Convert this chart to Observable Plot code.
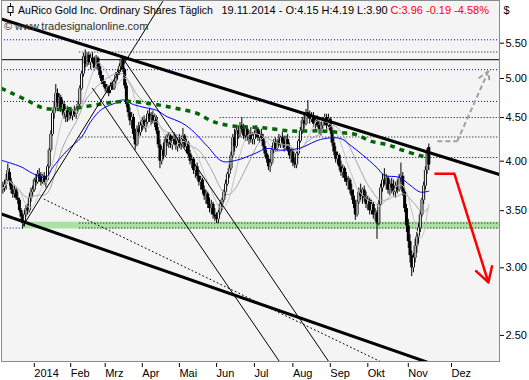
<!DOCTYPE html>
<html><head><meta charset="utf-8">
<script src="https://cdn.jsdelivr.net/npm/d3@7"></script>
<script src="https://cdn.jsdelivr.net/npm/@observablehq/plot@0.6"></script>
<style>
html,body{margin:0;padding:0;background:#fff;}
svg{display:block;}
</style></head><body><div id="chart"></div>
<script>
// ---------- data ----------
const titleMain = "AuRico Gold Inc. Ordinary Shares Täglich";
const titleQuote = "19.11.2014 - O:4.15 H:4.19 L:3.90";
const titleChange = "C:3.96 -0.19 -4.58%";
const currency = "$";
const credit = "© www.tradesignalonline.com";

const holidays = ["2013-12-25","2013-12-26","2014-01-01","2014-02-17","2014-04-18","2014-05-19","2014-07-01","2014-08-04","2014-09-01","2014-10-13","2014-12-25","2014-12-26","2015-01-01"];
const firstBar = "2013-12-03";
const monthStarts = ["2014-01-02","2014-02-03","2014-03-03","2014-04-01","2014-05-01","2014-06-02","2014-07-02","2014-08-01","2014-09-02","2014-10-01","2014-11-03","2014-12-01"];
const monthLabels = ["2014","Feb","Mrz","Apr","Mai","Jun","Jul","Aug","Sep","Okt","Nov","Dez"];
const priceTicks = [2.5,3,3.5,4,4.5,5,5.5];

const open = [
3.70,3.72,3.76,3.80,3.88,3.78,3.70,3.66,3.70,3.62,3.60,3.50,3.44,3.38,3.46,3.52,3.50,3.62,3.68,
3.70,3.80,3.78,3.86,3.82,3.78,3.84,3.78,3.80,3.94,4.12,4.30,4.55,4.62,4.80,4.68,4.75,4.60,4.66,4.52,4.58,4.50,
4.56,4.52,4.58,4.54,4.60,4.66,4.86,5.06,5.30,5.20,5.32,5.22,5.28,5.24,5.14,5.28,5.16,5.04,4.96,
4.92,4.86,4.88,4.84,4.90,4.86,4.96,5.04,5.08,5.16,5.26,5.12,4.90,4.66,4.56,4.46,4.50,4.30,4.18,4.36,
4.32,4.40,4.46,4.38,4.44,4.54,4.48,4.52,4.46,4.50,4.34,4.18,4.00,4.12,4.06,4.24,4.20,4.28,4.18,4.24,4.22,
4.16,4.22,4.18,4.24,4.28,4.16,4.20,4.08,4.00,4.02,3.90,3.94,3.84,3.78,3.80,3.70,3.64,3.66,3.56,3.52,3.56,
3.46,3.44,3.42,3.48,3.56,3.60,3.68,3.76,3.86,3.92,4.06,4.26,4.16,4.34,4.30,4.40,4.36,4.28,4.36,4.26,4.30,
4.24,4.24,4.30,4.36,4.26,4.30,4.26,4.16,4.08,4.02,3.94,3.98,4.12,4.20,4.14,4.22,4.18,4.26,4.22,4.14,4.24,
4.12,4.06,4.10,3.98,3.96,4.08,4.22,4.34,4.46,4.42,4.56,4.54,4.48,4.52,4.42,4.46,4.40,4.36,4.40,4.46,
4.50,4.40,4.48,4.34,4.20,4.10,4.02,4.06,3.94,3.88,3.92,3.82,3.78,3.80,3.70,3.64,3.56,3.46,3.58,3.68,3.64,
3.70,3.62,3.56,3.60,3.50,3.56,3.46,3.48,3.38,3.56,3.72,3.80,3.76,3.82,3.70,3.76,3.72,3.68,3.74,3.70,3.82,3.84,
3.68,3.52,3.36,3.22,3.10,3.00,3.08,3.18,3.26,3.34,3.46,3.60,3.74,3.90,4.15];
const high = [
3.78,3.80,3.86,3.97,3.92,3.82,3.76,3.74,3.72,3.68,3.62,3.52,3.47,3.50,3.55,3.56,3.66,3.72,3.74,
3.82,3.86,3.90,3.92,3.88,3.86,3.88,3.84,3.96,4.14,4.34,4.58,4.70,4.92,4.86,4.80,4.78,4.72,4.70,4.62,4.64,4.60,
4.62,4.60,4.64,4.62,4.70,4.90,5.10,5.35,5.40,5.36,5.36,5.34,5.36,5.30,5.32,5.30,5.20,5.10,5.04,
4.96,4.92,4.90,4.94,4.96,4.98,5.08,5.12,5.20,5.30,5.31,5.14,4.94,4.72,4.62,4.56,4.54,4.36,4.40,4.44,
4.46,4.50,4.52,4.48,4.58,4.60,4.56,4.58,4.54,4.52,4.38,4.24,4.16,4.20,4.28,4.30,4.32,4.30,4.28,4.32,4.30,
4.26,4.30,4.28,4.37,4.30,4.24,4.22,4.12,4.06,4.04,3.96,3.98,3.90,3.84,3.82,3.74,3.70,3.68,3.62,3.60,3.58,
3.52,3.48,3.50,3.58,3.62,3.70,3.80,3.88,3.96,4.10,4.30,4.36,4.38,4.40,4.44,4.50,4.42,4.40,4.40,4.34,4.38,
4.32,4.34,4.40,4.38,4.34,4.36,4.30,4.22,4.12,4.06,4.02,4.16,4.24,4.26,4.24,4.30,4.28,4.32,4.28,4.28,4.30,
4.20,4.14,4.12,4.04,4.10,4.24,4.38,4.50,4.56,4.60,4.71,4.58,4.56,4.56,4.50,4.52,4.48,4.44,4.50,4.54,
4.54,4.54,4.50,4.38,4.26,4.16,4.10,4.08,4.00,3.96,3.94,3.88,3.84,3.82,3.76,3.70,3.60,3.60,3.72,3.76,3.72,
3.74,3.68,3.64,3.62,3.60,3.58,3.52,3.50,3.60,3.76,3.86,3.92,3.86,3.84,3.80,3.82,3.80,3.78,3.80,3.86,3.98,3.88,
3.72,3.56,3.42,3.28,3.14,3.12,3.24,3.30,3.38,3.50,3.62,3.78,3.94,4.14,4.19];
const low = [
3.66,3.68,3.70,3.78,3.74,3.66,3.62,3.62,3.60,3.56,3.48,3.40,3.33,3.35,3.44,3.46,3.48,3.58,3.64,
3.68,3.74,3.76,3.78,3.74,3.76,3.75,3.72,3.80,3.92,4.10,4.28,4.48,4.58,4.62,4.60,4.56,4.52,4.48,4.44,4.44,4.46,
4.48,4.46,4.50,4.48,4.56,4.64,4.84,5.02,5.14,5.16,5.18,5.12,5.20,5.10,5.12,5.12,5.00,4.92,4.88,
4.82,4.80,4.76,4.80,4.84,4.84,4.92,4.98,5.04,5.12,5.08,4.86,4.62,4.50,4.40,4.36,4.24,4.12,4.16,4.28,
4.28,4.34,4.36,4.32,4.42,4.44,4.40,4.42,4.38,4.30,4.14,3.92,3.96,4.02,4.04,4.16,4.14,4.14,4.12,4.18,4.12,
4.10,4.14,4.12,4.20,4.14,4.08,4.04,3.96,3.92,3.86,3.82,3.80,3.74,3.70,3.66,3.60,3.56,3.52,3.48,3.46,3.42,
3.40,3.38,3.38,3.46,3.50,3.58,3.64,3.74,3.82,3.90,4.04,4.10,4.14,4.24,4.26,4.32,4.24,4.22,4.22,4.18,4.20,
4.18,4.18,4.26,4.22,4.20,4.22,4.12,4.04,3.98,3.90,3.88,3.96,4.08,4.10,4.10,4.16,4.14,4.18,4.10,4.12,4.10,
4.02,3.98,3.94,3.92,3.92,4.06,4.20,4.30,4.36,4.40,4.50,4.42,4.44,4.38,4.36,4.38,4.30,4.28,4.36,4.40,
4.36,4.38,4.30,4.16,4.06,3.98,3.96,3.90,3.84,3.82,3.78,3.74,3.70,3.66,3.60,3.52,3.41,3.44,3.56,3.60,3.56,
3.58,3.52,3.50,3.46,3.46,3.42,3.40,3.24,3.36,3.54,3.68,3.74,3.70,3.66,3.64,3.66,3.64,3.62,3.66,3.68,3.78,3.64,
3.48,3.30,3.16,3.04,2.93,2.96,3.04,3.12,3.20,3.30,3.44,3.56,3.70,3.86,3.90];
const close = [
3.72,3.75,3.80,3.90,3.78,3.70,3.66,3.70,3.62,3.60,3.50,3.44,3.38,3.46,3.52,3.50,3.62,3.68,3.70,
3.80,3.78,3.86,3.82,3.78,3.84,3.78,3.80,3.94,4.12,4.30,4.55,4.62,4.80,4.68,4.75,4.60,4.66,4.52,4.58,4.50,4.56,
4.52,4.58,4.54,4.60,4.66,4.86,5.06,5.30,5.20,5.32,5.22,5.28,5.24,5.14,5.28,5.16,5.04,4.96,4.92,
4.86,4.88,4.80,4.90,4.86,4.96,5.04,5.08,5.16,5.26,5.12,4.90,4.66,4.56,4.46,4.50,4.30,4.18,4.36,4.32,
4.40,4.46,4.38,4.44,4.54,4.48,4.52,4.46,4.50,4.34,4.18,4.00,4.12,4.06,4.24,4.20,4.28,4.18,4.24,4.22,4.16,
4.22,4.18,4.24,4.28,4.16,4.20,4.08,4.00,4.02,3.90,3.94,3.84,3.78,3.80,3.70,3.64,3.66,3.56,3.52,3.56,3.46,
3.44,3.42,3.48,3.56,3.60,3.68,3.76,3.86,3.92,4.06,4.26,4.16,4.34,4.30,4.40,4.36,4.28,4.36,4.26,4.30,4.24,
4.28,4.30,4.36,4.26,4.30,4.26,4.16,4.08,4.02,3.94,3.98,4.12,4.20,4.14,4.22,4.18,4.26,4.22,4.14,4.24,4.12,
4.06,4.10,3.98,3.96,4.08,4.22,4.34,4.46,4.42,4.56,4.54,4.48,4.52,4.42,4.46,4.40,4.36,4.40,4.46,4.50,
4.40,4.48,4.34,4.20,4.10,4.02,4.06,3.94,3.88,3.92,3.82,3.78,3.80,3.70,3.64,3.56,3.46,3.58,3.68,3.64,3.70,
3.62,3.56,3.60,3.50,3.56,3.46,3.48,3.38,3.56,3.72,3.80,3.76,3.82,3.70,3.76,3.72,3.68,3.74,3.70,3.82,3.84,3.68,
3.52,3.36,3.22,3.10,3.00,3.08,3.18,3.26,3.34,3.46,3.60,3.74,3.90,4.10,3.96];

// moving averages (blue and dotted green)
const maBlue = [["2013-12-02",4.01],["2013-12-18",3.94],["2013-12-31",3.87],["2014-01-13",3.83],["2014-01-17",3.93],["2014-01-30",4.12],["2014-02-11",4.27],["2014-02-19",4.45],["2014-02-27",4.60],["2014-03-12",4.69],["2014-03-17",4.72],["2014-03-25",4.66],["2014-04-03",4.62],["2014-04-11",4.59],["2014-04-22",4.51],["2014-05-02",4.44],["2014-05-12",4.35],["2014-05-26",4.16],["2014-06-05",4.00],["2014-06-17",4.01],["2014-07-03",4.09],["2014-07-11",4.14],["2014-07-23",4.12],["2014-08-07",4.14],["2014-08-13",4.17],["2014-08-21",4.23],["2014-09-02",4.26],["2014-09-10",4.25],["2014-09-17",4.18],["2014-09-26",4.07],["2014-10-08",3.93],["2014-10-15",3.85],["2014-10-27",3.83],["2014-11-04",3.75],["2014-11-12",3.68],["2014-11-19",3.69]];
const maGreen = [["2013-12-02",4.87],["2013-12-10",4.81],["2013-12-24",4.71],["2014-01-09",4.62],["2014-01-24",4.60],["2014-02-07",4.62],["2014-02-25",4.66],["2014-03-10",4.69],["2014-03-21",4.70],["2014-04-08",4.67],["2014-04-21",4.64],["2014-05-02",4.60],["2014-05-15",4.55],["2014-05-28",4.46],["2014-06-05",4.42],["2014-06-19",4.39],["2014-07-08",4.38],["2014-07-31",4.34],["2014-08-25",4.34],["2014-09-10",4.32],["2014-09-22",4.30],["2014-10-03",4.22],["2014-10-17",4.18],["2014-10-29",4.12],["2014-11-12",4.06],["2014-11-19",4.04]];

// drawn trend lines (date, price)
const channelUpper = [["2013-12-02",5.87],["2014-12-31",3.83]];
const channelLower = [["2013-12-02",3.47],["2014-11-21",2.31]];
const fanUp = [["2013-12-19",3.355],["2014-05-05",6.72]];
const fanDown1 = [["2014-02-20",4.87],["2014-07-30",2.24]];
const fanDown2 = [["2014-03-17",5.28],["2014-09-08",2.25]];
const dottedTrend = [["2014-01-10",3.61],["2014-10-22",2.29]];
const redLevel = [["2014-11-21",3.867],["2014-12-02",3.867]];
const redTarget = {from:["2014-12-02",3.867], to:["2014-12-18",2.884]};
const grayLevel = [["2014-11-24",4.22],["2014-12-03",4.22]];
const grayTarget = {from:["2014-12-03",4.22], to:["2014-12-18",5.10]};

// horizontal levels
const blueLevels = [5.55, 5.12, 4.70];
const solidLevels = [5.26];
const dottedLevels = [{p:5.37,from:"2014-02-10"},{p:4.27,from:"2014-02-10"},{p:4.04,from:"2014-02-10"},{p:4.50,from:"2014-06-04"},{p:3.385,from:"2014-02-10"},{p:3.34,from:"2014-02-10"}];
const blueShort = [{p:3.34,from:"2013-12-02",to:"2013-12-20"}];
const supportZone = {from:"2013-12-20", lo:3.332, hi:3.393};

// ---------- trading-day calendar ----------
const tdays = [];
for (let t = Date.UTC(2013,10,25); t <= Date.UTC(2015,1,27); t += 864e5) {
  const d = new Date(t), wd = d.getUTCDay();
  if (wd === 0 || wd === 6) continue;
  const s = d.toISOString().slice(0,10);
  if (holidays.includes(s)) continue;
  tdays.push(s);
}
const pos = new Map(tdays.map((s,i)=>[s,i]));
const ix = s => pos.get(s);
const lastIx = tdays.length - 1;

const start = ix(firstBar);
const candles = close.map((c,i)=>({x:start+i, o:open[i], h:high[i], l:low[i], c}));
const bodies = candles.flatMap(d => d.c > d.o
  ? [{x:d.x,y1:d.o,y2:d.c,col:"#000",w:3},{x:d.x,y1:d.o,y2:d.c,col:"#fff",w:1.1}]
  : [{x:d.x,y1:d.o,y2:d.c,col:"#000",w:3}]);

const xBreaks = [...monthStarts.slice(0,11), "2014-11-19", monthStarts[11]];
const xPixels = [33.8,70.2,104.7,141.8,178.9,216.1,253.9,292.4,329.8,367.3,407.8,428.3,451];
const labelOf = new Map(monthStarts.map((s,i)=>[ix(s), monthLabels[i]]));

const P = d => ix(d[0]);
const V = d => d[1];
const font = "'Liberation Sans', Arial, sans-serif";

const chart = Plot.plot({
  width: 529, height: 380,
  marginLeft: 1, marginRight: 30, marginTop: 0, marginBottom: 19,
  style: {fontFamily: font, fontSize: "11px", background: "#fff", color: "#000", overflow: "visible"},
  x: {type: "linear", domain: xBreaks.map(ix), range: xPixels},
  y: {type: "log", domain: [2.33, 6.171]},
  color: {type: "identity"},
  marks: [
    Plot.frame({fill: "#f4f4f4", stroke: null}),
    Plot.rect([supportZone], {x1: d=>ix(d.from), x2: ()=>lastIx, y1: "lo", y2: "hi", fill: "#a9e2a2", clip: true}),
    Plot.ruleY(blueLevels, {stroke: "#0000ff", strokeWidth: 1, strokeDasharray: "1,2"}),
    Plot.ruleY(blueShort, {y: "p", x1: d=>ix(d.from), x2: d=>ix(d.to), stroke: "#0000ff", strokeDasharray: "1,2", clip: true}),
    Plot.ruleY(solidLevels, {stroke: "#000", strokeWidth: 1}),
    Plot.ruleY(dottedLevels, {y: "p", x1: d=>ix(d.from), x2: ()=>lastIx, stroke: "#000", strokeDasharray: "1,2", clip: true}),
    // candles
    Plot.ruleX(candles, {x: "x", y1: "l", y2: "h", stroke: "#000", strokeWidth: 1, clip: true}),
    Plot.ruleX(bodies, {x: "x", y1: "y1", y2: "y2", stroke: "col", strokeWidth: "w", clip: true}),
    // moving averages
    Plot.lineY(candles, Plot.windowY({k: 20, anchor: "end", reduce: "mean"}, {x: "x", y: "c", stroke: "#a6a6a6", strokeWidth: 1, clip: true})),
    Plot.lineY(candles, Plot.windowY({k: 10, anchor: "end", reduce: "mean"}, {x: "x", y: "c", stroke: "#c4c4c4", strokeWidth: 1, clip: true})),
    Plot.line(maBlue, {x: P, y: V, stroke: "#0000ff", strokeWidth: 1, curve: "catmull-rom", clip: true}),
    Plot.line(maGreen, {x: P, y: V, stroke: "#006400", strokeWidth: 3.5, strokeDasharray: "5,5", strokeLinecap: "butt", curve: "catmull-rom", clip: true}),
    // trend lines
    Plot.line(dottedTrend, {x: P, y: V, stroke: "#000", strokeWidth: 1, strokeDasharray: "1,3", clip: true}),
    Plot.line(fanUp, {x: P, y: V, stroke: "#000", strokeWidth: 1, clip: true}),
    Plot.line(fanDown1, {x: P, y: V, stroke: "#000", strokeWidth: 1, clip: true}),
    Plot.line(fanDown2, {x: P, y: V, stroke: "#000", strokeWidth: 1, clip: true}),
    Plot.line(channelUpper, {x: P, y: V, stroke: "#000", strokeWidth: 3, clip: true}),
    Plot.line(channelLower, {x: P, y: V, stroke: "#000", strokeWidth: 3, clip: true}),
    // projections
    Plot.line(grayLevel, {x: P, y: V, stroke: "#a0a0a0", strokeWidth: 2, strokeDasharray: "5,3", strokeLinecap: "butt", clip: true}),
    Plot.arrow([grayTarget], {x1: d=>ix(d.from[0]), y1: d=>d.from[1], x2: d=>ix(d.to[0]), y2: d=>d.to[1], stroke: "#a0a0a0", strokeWidth: 2, strokeDasharray: "5,3", strokeLinecap: "butt", headLength: 9, clip: true}),
    Plot.line(redLevel, {x: P, y: V, stroke: "#ff0000", strokeWidth: 2.5, strokeLinecap: "butt", clip: true}),
    Plot.arrow([redTarget], {x1: d=>ix(d.from[0]), y1: d=>d.from[1], x2: d=>ix(d.to[0]), y2: d=>d.to[1], stroke: "#ff0000", strokeWidth: 2.5, headLength: 10, clip: true}),
    Plot.frame({stroke: "#8a8a8a"}),
    // axes
    Plot.axisX({anchor: "bottom", ticks: monthStarts.map(ix), tickFormat: d => labelOf.get(d), tickSize: 4, tickPadding: 2, dy: 2, dx: 0, textAnchor: "start", label: null, fontSize: 11}),
    Plot.axisY({anchor: "right", ticks: priceTicks, tickFormat: d => d.toFixed(2), tickSize: 4, tickPadding: 2, label: null, fontSize: 11}),
    // header texts
    Plot.text([titleMain], {frameAnchor: "top-left", text: d=>d, dx: 16.6, dy: 10, lineAnchor: "middle", textAnchor: "start", fontSize: 10.5, fill: "#000"}),
    Plot.text([titleQuote], {frameAnchor: "top-left", text: d=>d, dx: 220, dy: 10, lineAnchor: "middle", textAnchor: "start", fontSize: 11, fill: "#000"}),
    Plot.text([titleChange], {frameAnchor: "top-left", text: d=>d, dx: 389, dy: 10, lineAnchor: "middle", textAnchor: "start", fontSize: 11, fill: "#ff0000"}),
    Plot.text([currency], {frameAnchor: "top-right", text: d=>d, dx: 4, dy: 10, lineAnchor: "middle", textAnchor: "start", fontSize: 11, fill: "#000"}),
    Plot.text([credit], {frameAnchor: "top-left", text: d=>d, dx: 2.4, dy: 26, lineAnchor: "middle", textAnchor: "start", fontSize: 11, fill: "#333"})
  ]
});
document.getElementById("chart").appendChild(chart);

// small candlestick glyph in front of the title
const g = d3.select(chart).append("g");
g.append("line").attr("x1",10.5).attr("x2",10.5).attr("y1",3).attr("y2",16).attr("stroke","#000");
g.append("rect").attr("x",8).attr("y",6.5).attr("width",5).attr("height",6).attr("fill","#fff").attr("stroke","#000");
</script></body></html>
